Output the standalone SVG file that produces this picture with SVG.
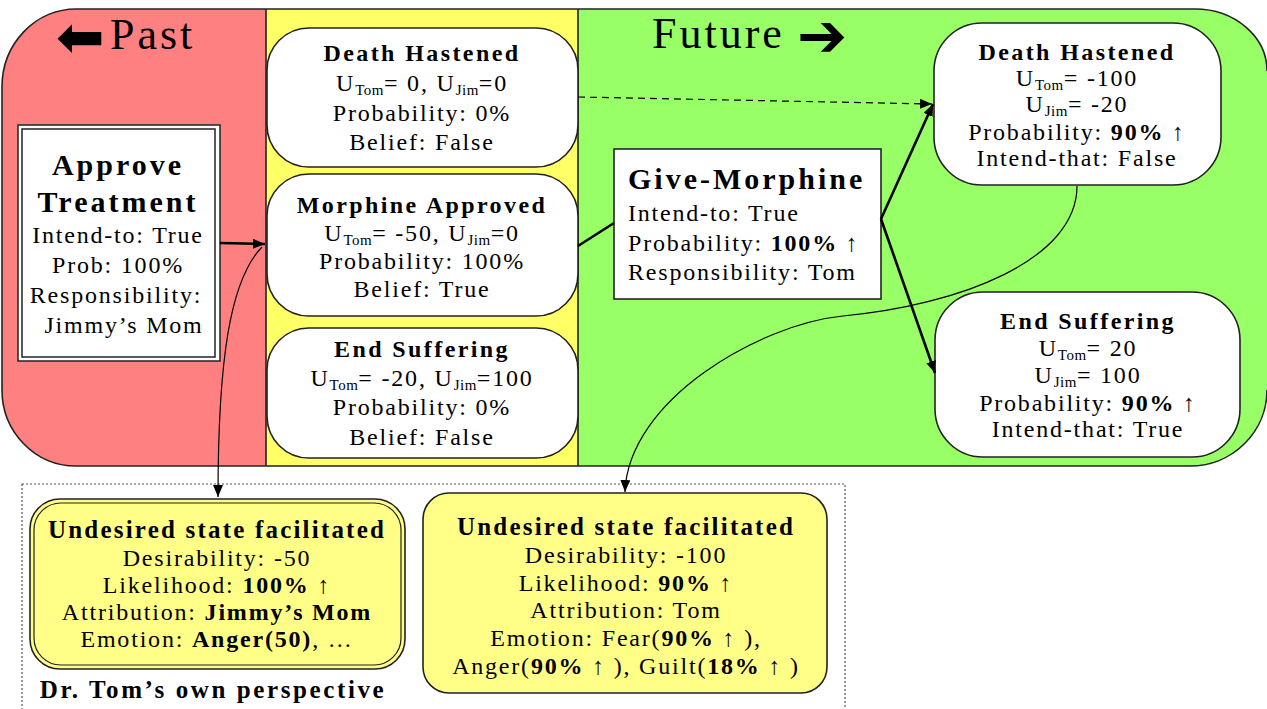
<svg xmlns="http://www.w3.org/2000/svg" width="1267" height="709" viewBox="0 0 1267 709">
<defs>
<marker id="ah" viewBox="0 0 12 10" refX="12" refY="5" markerWidth="12" markerHeight="10" markerUnits="userSpaceOnUse" orient="auto"><path d="M0,0 L12,5 L0,10 z" fill="#000"/></marker>
<style>
text{font-family:"Liberation Serif","DejaVu Serif","Times New Roman",serif;fill:#000}
.t{font-size:24px;letter-spacing:1.8px;text-anchor:middle}
.tl{font-size:24px;letter-spacing:1.8px}
.tb{font-size:24px;letter-spacing:2.4px;font-weight:bold;text-anchor:middle}
.ub{font-size:25px;letter-spacing:2.2px;font-weight:bold;text-anchor:middle}
.big{font-size:30px;letter-spacing:3px;font-weight:bold}
.hd{font-size:44px;letter-spacing:3px}
.arw{font-family:"DejaVu Sans",sans-serif}
.sub{font-size:15px;letter-spacing:0.5px}
.bo{font-weight:bold}
.node{fill:#fff;stroke:#222;stroke-width:1.6}
.ynode{fill:#ffff88;stroke:#222;stroke-width:1.6}
.edge{fill:none;stroke:#000;stroke-width:1.2}
.thick{fill:none;stroke:#000;stroke-width:2.6}
</style>
</defs>

<g id="background">
<path d="M266 9 H76 A74 78 0 0 0 2 87 V390 A74 76 0 0 0 76 466 H266 Z" fill="#ff8080"/>
<rect x="266" y="9" width="312" height="457" fill="#ffff66"/>
<path d="M578 9 H1195 A72 62 0 0 1 1267 71 V390 A77 76 0 0 1 1190 466 H578 Z" fill="#99ff66"/>
<path d="M76 9 H1195 A72 62 0 0 1 1267 71 M1267 390 A77 76 0 0 1 1190 466 H76 A74 76 0 0 1 2 390 V87 A74 78 0 0 1 76 9" fill="none" stroke="#222" stroke-width="1.6"/>
<line x1="266" y1="9" x2="266" y2="466" stroke="#222" stroke-width="1.6"/>
<line x1="578" y1="9" x2="578" y2="466" stroke="#222" stroke-width="1.6"/>
<text class="arw" x="56" y="57" font-size="58">⬅</text>
<text class="hd" x="110" y="49">Past</text>
<text class="hd" x="652" y="48">Future</text>
<text class="arw" x="797" y="56" font-size="60">➔</text>
<rect x="22" y="484" width="823" height="240" fill="none" stroke="#555" stroke-width="1.2" stroke-dasharray="2 2"/>
</g>

<g id="approve-treatment">
<rect x="18" y="125" width="202" height="236" fill="#fff" stroke="#222" stroke-width="1.5"/>
<rect x="22" y="129" width="193" height="228" fill="none" stroke="#222" stroke-width="1.5"/>
<text class="big" x="118" y="175" text-anchor="middle">Approve</text>
<text class="big" x="118" y="212" text-anchor="middle">Treatment</text>
<text class="t" x="118" y="243">Intend-to: True</text>
<text class="t" x="118" y="273">Prob: 100%</text>
<text class="t" x="116" y="303">Responsibility:</text>
<text class="t" x="124" y="333">Jimmy’s Mom</text>
</g>

<g id="death-hastened-past">
<rect class="node" x="267" y="28" width="311" height="139" rx="42" ry="42"/>
<text class="tb" x="422" y="61">Death Hastened</text>
<text class="t" x="422" y="91">U<tspan class="sub" dy="4">Tom</tspan><tspan dy="-4">= 0, U</tspan><tspan class="sub" dy="4">Jim</tspan><tspan dy="-4">=0</tspan></text>
<text class="t" x="422" y="121">Probability: 0%</text>
<text class="t" x="422" y="150">Belief: False</text>
</g>

<g id="morphine-approved">
<rect class="node" x="267" y="174" width="311" height="142" rx="42" ry="42"/>
<text class="tb" x="422" y="213">Morphine Approved</text>
<text class="t" x="422" y="241">U<tspan class="sub" dy="4">Tom</tspan><tspan dy="-4">= -50, U</tspan><tspan class="sub" dy="4">Jim</tspan><tspan dy="-4">=0</tspan></text>
<text class="t" x="422" y="269">Probability: 100%</text>
<text class="t" x="422" y="297">Belief: True</text>
</g>

<g id="end-suffering-past">
<rect class="node" x="267" y="328" width="311" height="130" rx="42" ry="42"/>
<text class="tb" x="422" y="357">End Suffering</text>
<text class="t" x="422" y="386">U<tspan class="sub" dy="4">Tom</tspan><tspan dy="-4">= -20, U</tspan><tspan class="sub" dy="4">Jim</tspan><tspan dy="-4">=100</tspan></text>
<text class="t" x="422" y="415">Probability: 0%</text>
<text class="t" x="422" y="445">Belief: False</text>
</g>

<g id="give-morphine">
<rect x="614" y="149" width="267" height="150" fill="#fff" stroke="#222" stroke-width="1.6"/>
<text class="big" x="628" y="189">Give-Morphine</text>
<text class="tl" x="628" y="221">Intend-to: True</text>
<text class="tl" x="628" y="251">Probability: <tspan class="bo">100%</tspan> ↑</text>
<text class="tl" x="628" y="280">Responsibility: Tom</text>
</g>

<g id="death-hastened-future">
<rect class="node" x="934" y="23" width="287" height="162" rx="48" ry="48"/>
<text class="tb" x="1077" y="60">Death Hastened</text>
<text class="t" x="1077" y="86">U<tspan class="sub" dy="4">Tom</tspan><tspan dy="-4">= -100</tspan></text>
<text class="t" x="1077" y="112">U<tspan class="sub" dy="4">Jim</tspan><tspan dy="-4">= -20</tspan></text>
<text class="t" x="1077" y="140">Probability: <tspan class="bo">90%</tspan> ↑</text>
<text class="t" x="1077" y="166">Intend-that: False</text>
</g>

<g id="end-suffering-future">
<rect class="node" x="935" y="292" width="305" height="165" rx="48" ry="48"/>
<text class="tb" x="1088" y="329">End Suffering</text>
<text class="t" x="1088" y="356">U<tspan class="sub" dy="4">Tom</tspan><tspan dy="-4">= 20</tspan></text>
<text class="t" x="1088" y="383">U<tspan class="sub" dy="4">Jim</tspan><tspan dy="-4">= 100</tspan></text>
<text class="t" x="1088" y="411">Probability: <tspan class="bo">90%</tspan> ↑</text>
<text class="t" x="1088" y="437">Intend-that: True</text>
</g>

<g id="undesired-past">
<rect class="ynode" x="30" y="499" width="375" height="170" rx="30" ry="30"/>
<rect x="34" y="503" width="367" height="162" rx="27" ry="27" fill="none" stroke="#222" stroke-width="1.2"/>
<text class="ub" x="217" y="538">Undesired state facilitated</text>
<text class="t" x="217" y="566">Desirability: -50</text>
<text class="t" x="217" y="593">Likelihood: <tspan class="bo">100%</tspan> ↑</text>
<text class="t" x="217" y="620">Attribution: <tspan class="bo">Jimmy’s Mom</tspan></text>
<text class="t" x="217" y="647">Emotion: <tspan class="bo">Anger(50)</tspan>, …</text>
</g>

<g id="perspective-label">
<text class="ub" x="213" y="698" style="letter-spacing:2.6px">Dr. Tom’s own perspective</text>
</g>

<g id="undesired-future">
<rect class="ynode" x="423" y="493" width="404" height="200" rx="26" ry="26"/>
<text class="ub" x="626" y="535">Undesired state facilitated</text>
<text class="t" x="626" y="563">Desirability: -100</text>
<text class="t" x="626" y="591">Likelihood: <tspan class="bo">90%</tspan> ↑</text>
<text class="t" x="626" y="618">Attribution: Tom</text>
<text class="t" x="626" y="646">Emotion:  Fear(<tspan class="bo">90%</tspan> ↑ ),</text>
<text class="t" x="626" y="674">Anger(<tspan class="bo">90%</tspan> ↑ ), Guilt(<tspan class="bo">18%</tspan> ↑ )</text>
</g>

<g id="connectors">
<line class="thick" x1="220" y1="243" x2="265" y2="244" marker-end="url(#ah)"/>
<line class="edge" x1="578" y1="97" x2="932" y2="104" stroke-dasharray="7 5" marker-end="url(#ah)"/>
<line class="thick" x1="578" y1="246" x2="614" y2="223"/>
<line class="thick" x1="881" y1="219" x2="933" y2="104" marker-end="url(#ah)"/>
<line class="thick" x1="881" y1="219" x2="935" y2="373" marker-end="url(#ah)"/>
<path class="edge" d="M262 247 C230 280 218 360 218 497" marker-end="url(#ah)"/>
<path class="edge" d="M1077 186 C1077 260 960 305 843 316 C760 324 628 400 625 492" marker-end="url(#ah)"/>
</g>
</svg>
